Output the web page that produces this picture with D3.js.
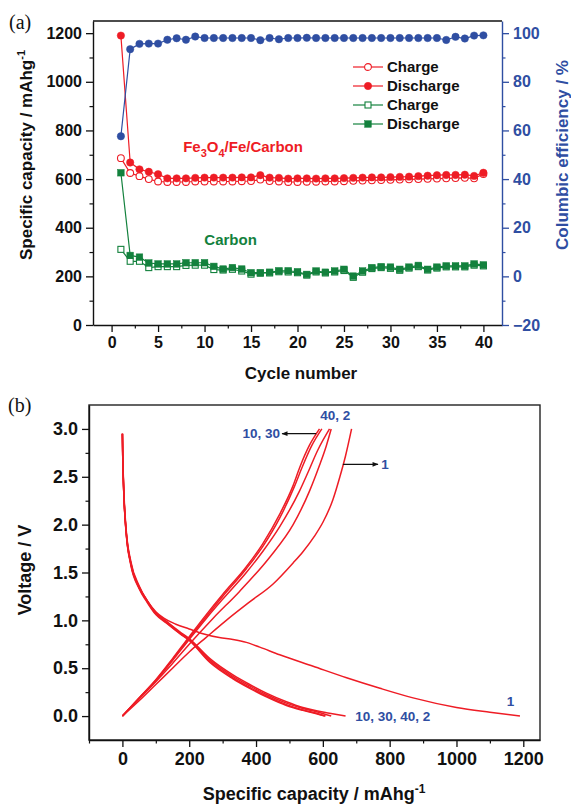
<!DOCTYPE html>
<html>
<head>
<meta charset="utf-8">
<script src="https://cdn.jsdelivr.net/npm/d3@7"></script>
<style>
  body { margin: 0; background: #fff; }
  svg { display: block; }
</style>
</head>
<body>
<svg id="chart" width="571" height="805"></svg>
<script>
// ---------- (a) cycling data ----------
const cycleNo = [1, 2, 3, 4, 5, 6, 7, 8, 9, 10, 11, 12, 13, 14, 15, 16, 17, 18, 19, 20,
                 21, 22, 23, 24, 25, 26, 27, 28, 29, 30, 31, 32, 33, 34, 35, 36, 37, 38, 39, 40];

const compositeDischarge = [1190, 668, 640, 630, 620, 603, 603, 603, 605, 606, 606, 606, 606, 607, 607, 616, 606, 605, 602, 603,
                            603, 602, 603, 603, 604, 605, 606, 607, 607, 608, 609, 610, 612, 614, 616, 617, 617, 618, 613, 626];
const compositeCharge = [686, 625, 612, 600, 590, 588, 588, 588, 590, 590, 590, 590, 590, 591, 592, 598, 592, 590, 588, 588,
                         589, 589, 590, 590, 591, 593, 594, 595, 596, 597, 598, 599, 600, 601, 602, 603, 604, 605, 603, 621];
const coulombicEff = [57.6, 93.4, 95.6, 95.7, 95.7, 97.3, 97.9, 97.3, 98.6, 98.0, 98.0, 98.0, 98.0, 98.0, 98.0, 97.1, 98.0, 97.5, 98.0, 98.0,
                      98.1, 98.0, 98.0, 98.0, 98.0, 98.0, 98.0, 98.0, 98.0, 98.0, 98.0, 98.0, 98.0, 98.0, 98.0, 97.2, 98.5, 97.8, 99.0, 99.1];
const carbonDischarge = [626, 286, 279, 255, 251, 251, 251, 256, 256, 256, 241, 230, 236, 230, 215, 215, 217, 223, 223, 219,
                         208, 222, 217, 222, 229, 201, 222, 236, 240, 238, 229, 238, 245, 229, 238, 243, 243, 243, 251, 247];
const carbonCharge = [311, 262, 262, 236, 240, 240, 240, 245, 246, 246, 228, 226, 229, 222, 209, 213, 214, 219, 218, 215,
                      205, 218, 214, 218, 224, 196, 217, 232, 236, 233, 225, 234, 240, 226, 234, 239, 239, 239, 246, 243];

const capTicksA = [0, 200, 400, 600, 800, 1000, 1200];
const capMinorA = [100, 300, 500, 700, 900, 1100];
const cycleTicks = [0, 5, 10, 15, 20, 25, 30, 35, 40];
const cycleMinor = [2.5, 7.5, 12.5, 17.5, 22.5, 27.5, 32.5, 37.5];
const ceTicks = [-20, 0, 20, 40, 60, 80, 100];
const ceMinor = [-10, 10, 30, 50, 70, 90];

// ---------- (b) voltage profiles: [capacity mAh/g, voltage V] ----------
const discharge1 = [[0, 2.95], [1, 2.75], [2, 2.6], [5, 2.3], [12, 1.92], [25, 1.62], [50, 1.36], [75, 1.2], [100, 1.09],
                    [125, 1.02], [160, 0.96], [200, 0.91], [241, 0.86], [290, 0.82], [331, 0.8], [371, 0.77], [411, 0.72],
                    [471, 0.64], [571, 0.52], [671, 0.4], [771, 0.29], [870, 0.19], [1000, 0.09], [1100, 0.04], [1190, 0.0]];
const discharge2 = [[0, 2.95], [1, 2.72], [2, 2.57], [5, 2.27], [12, 1.9], [25, 1.6], [50, 1.35], [72, 1.22], [100, 1.08],
                    [132, 0.99], [172, 0.88], [200, 0.81], [262, 0.6], [331, 0.43], [381, 0.33], [431, 0.24], [491, 0.15],
                    [540, 0.09], [581, 0.055], [620, 0.03], [668, 0.0]];
const discharge10 = [[0, 2.95], [1, 2.7], [2, 2.55], [5, 2.25], [12, 1.88], [25, 1.58], [50, 1.33], [72, 1.2], [100, 1.06],
                     [132, 0.97], [172, 0.86], [200, 0.79], [262, 0.56], [331, 0.39], [381, 0.29], [431, 0.2], [491, 0.11],
                     [540, 0.06], [581, 0.025], [606, 0.0]];
const discharge30 = [[0, 2.95], [1, 2.71], [2, 2.56], [5, 2.26], [12, 1.89], [25, 1.59], [50, 1.34], [72, 1.21], [100, 1.07],
                     [132, 0.975], [172, 0.865], [200, 0.795], [262, 0.57], [331, 0.4], [381, 0.3], [431, 0.21], [491, 0.12],
                     [540, 0.065], [581, 0.03], [608, 0.0]];
const discharge40 = [[0, 2.95], [1, 2.71], [2, 2.56], [5, 2.26], [12, 1.89], [25, 1.6], [50, 1.345], [72, 1.215], [100, 1.075],
                     [132, 0.985], [172, 0.87], [200, 0.80], [262, 0.585], [331, 0.415], [381, 0.315], [431, 0.225], [491, 0.135],
                     [540, 0.08], [581, 0.045], [625, 0.0]];

const charge1 = [[0, 0], [50, 0.16], [100, 0.33], [150, 0.5], [200, 0.67], [250, 0.82], [311, 1.0], [380, 1.19], [451, 1.38],
                 [511, 1.6], [541, 1.72], [575, 1.88], [601, 2.03], [630, 2.26], [651, 2.5], [668, 2.72], [686, 3.0]];
const charge2 = [[0, 0], [50, 0.18], [100, 0.36], [150, 0.55], [200, 0.75], [271, 1.02], [350, 1.3], [441, 1.66], [511, 2.0],
                 [560, 2.35], [590, 2.62], [610, 2.82], [625, 3.0]];
const charge10 = [[0, 0], [50, 0.19], [100, 0.38], [150, 0.6], [200, 0.83], [251, 1.06], [300, 1.27], [371, 1.56], [420, 1.8],
                  [471, 2.11], [510, 2.4], [531, 2.6], [560, 2.83], [590, 3.0]];
const charge30 = [[0, 0], [50, 0.19], [100, 0.375], [150, 0.59], [200, 0.815], [251, 1.04], [300, 1.25], [371, 1.54], [420, 1.77],
                  [471, 2.07], [515, 2.4], [538, 2.6], [566, 2.82], [597, 3.0]];
const charge40 = [[0, 0], [50, 0.185], [100, 0.37], [150, 0.58], [200, 0.8], [251, 1.02], [300, 1.22], [371, 1.5], [420, 1.72],
                  [471, 1.98], [530, 2.35], [556, 2.55], [585, 2.78], [620, 3.0]];

const capTicksB = [0, 200, 400, 600, 800, 1000, 1200];
const capMinorB = [-100, 100, 300, 500, 700, 900, 1100];
const voltTicks = [0, 0.5, 1.0, 1.5, 2.0, 2.5, 3.0];
const voltMinor = [0.25, 0.75, 1.25, 1.75, 2.25, 2.75];

// ---------- styling ----------
const FONT = "'Liberation Sans', Arial, Helvetica, sans-serif";
const RED = "#ee1c25", BLUE = "#2f4ea2", GREEN = "#13813d", INK = "#111";
const svg = d3.select("#chart");

function styleAxis(g, size, color) {
  g.selectAll("text").attr("font-family", FONT).attr("font-weight", "bold")
    .attr("font-size", size).attr("fill", color);
  g.selectAll("line").attr("stroke", color).attr("stroke-width", 1.3);
  g.selectAll("path.domain").attr("stroke", color).attr("stroke-width", 1.4);
}
function minorAxis(axisFn, scale, vals, tx, ty, color) {
  const g = svg.append("g").attr("transform", `translate(${tx},${ty})`)
    .call(axisFn(scale).tickValues(vals).tickFormat("").tickSize(3.5).tickSizeOuter(0));
  g.select("path.domain").remove();
  g.selectAll("line").attr("stroke", color).attr("stroke-width", 1.2);
}

// ================= Panel (a) =================
const xA = d3.scaleLinear().domain([-2, 42]).range([93, 502]);
const yA = d3.scaleLinear().domain([0, 1250]).range([325, 21]);
const yCE = d3.scaleLinear().domain([-20, 105]).range([325, 21]);

// top frame edge
svg.append("line").attr("x1", 93).attr("x2", 502).attr("y1", 21).attr("y2", 21)
  .attr("stroke", INK).attr("stroke-width", 1.4);

const axL = svg.append("g").attr("transform", "translate(93,0)")
  .call(d3.axisLeft(yA).tickValues(capTicksA).tickFormat(d3.format("d")).tickSize(7).tickSizeOuter(0).tickPadding(4));
styleAxis(axL, 16, INK);
minorAxis(d3.axisLeft, yA, capMinorA, 93, 0, INK);

const axB = svg.append("g").attr("transform", "translate(0,325)")
  .call(d3.axisBottom(xA).tickValues(cycleTicks).tickFormat(d3.format("d")).tickSize(7).tickSizeOuter(0).tickPadding(5));
styleAxis(axB, 16, INK);
minorAxis(d3.axisBottom, xA, cycleMinor, 0, 325, INK);

const axR = svg.append("g").attr("transform", "translate(502,0)")
  .call(d3.axisRight(yCE).tickValues(ceTicks).tickFormat(d3.format("d")).tickSize(7).tickSizeOuter(0).tickPadding(4));
styleAxis(axR, 16, BLUE);
minorAxis(d3.axisRight, yCE, ceMinor, 502, 0, BLUE);

// axis titles
svg.append("text").attr("transform", "translate(32,155) rotate(-90)")
  .attr("text-anchor", "middle").attr("font-family", FONT).attr("font-weight", "bold")
  .attr("font-size", 17).attr("fill", INK)
  .call(t => { t.append("tspan").text("Specific capacity / mAhg");
               t.append("tspan").attr("dy", -7).attr("font-size", 11).text("-1"); });
svg.append("text").attr("transform", "translate(568,155) rotate(-90)")
  .attr("text-anchor", "middle").attr("font-family", FONT).attr("font-weight", "bold")
  .attr("font-size", 17).attr("fill", BLUE).text("Columbic efficiency / %");
svg.append("text").attr("x", 301).attr("y", 379).attr("text-anchor", "middle")
  .attr("font-family", FONT).attr("font-weight", "bold").attr("font-size", 17).attr("fill", INK)
  .text("Cycle number");
svg.append("text").attr("x", 9).attr("y", 29).attr("font-family", "'Liberation Serif', 'Times New Roman', serif")
  .attr("font-size", 20).attr("fill", INK).text("(a)");

// series
const seriesA = [
  { vals: compositeCharge, scale: yA, color: RED, shape: "circle", filled: false },
  { vals: compositeDischarge, scale: yA, color: RED, shape: "circle", filled: true },
  { vals: carbonCharge, scale: yA, color: GREEN, shape: "square", filled: false },
  { vals: carbonDischarge, scale: yA, color: GREEN, shape: "square", filled: true },
  { vals: coulombicEff, scale: yCE, color: BLUE, shape: "circle", filled: true }
];
function drawMarker(g, shape, color, filled, cx, cy) {
  if (shape === "circle") {
    g.append("circle").attr("cx", cx).attr("cy", cy).attr("r", filled ? 3.7 : 3.4)
      .attr("fill", filled ? color : "#fff").attr("stroke", color).attr("stroke-width", filled ? 0.5 : 1.1);
  } else {
    const s = filled ? 6.6 : 6;
    g.append("rect").attr("x", cx - s / 2).attr("y", cy - s / 2).attr("width", s).attr("height", s)
      .attr("fill", filled ? color : "#fff").attr("stroke", color).attr("stroke-width", filled ? 0.5 : 1.1);
  }
}
seriesA.forEach(s => {
  const pts = cycleNo.map((c, i) => [xA(c), s.scale(s.vals[i])]);
  svg.append("path").attr("d", d3.line()(pts)).attr("fill", "none")
    .attr("stroke", s.color).attr("stroke-width", 1.2);
});
seriesA.forEach(s => {
  const g = svg.append("g");
  cycleNo.forEach((c, i) => drawMarker(g, s.shape, s.color, s.filled, xA(c), s.scale(s.vals[i])));
});

// in-plot labels
svg.append("text").attr("x", xA(7.7)).attr("y", yA(712)).attr("font-family", FONT)
  .attr("font-weight", "bold").attr("font-size", 15).attr("fill", RED)
  .call(t => {
    t.append("tspan").text("Fe");
    t.append("tspan").attr("dy", 5).attr("font-size", 11).text("3");
    t.append("tspan").attr("dy", -5).text("O");
    t.append("tspan").attr("dy", 5).attr("font-size", 11).text("4");
    t.append("tspan").attr("dy", -5).text("/Fe/Carbon");
  });
svg.append("text").attr("x", xA(12.8)).attr("y", yA(330)).attr("text-anchor", "middle")
  .attr("font-family", FONT).attr("font-weight", "bold").attr("font-size", 15).attr("fill", GREEN)
  .text("Carbon");

// legend
const legendItems = [
  { label: "Charge", color: RED, shape: "circle", filled: false },
  { label: "Discharge", color: RED, shape: "circle", filled: true },
  { label: "Charge", color: GREEN, shape: "square", filled: false },
  { label: "Discharge", color: GREEN, shape: "square", filled: true }
];
const leg = svg.append("g").attr("transform", "translate(353,67)");
legendItems.forEach((d, i) => {
  const gy = i * 19;
  leg.append("line").attr("x1", 0).attr("x2", 30).attr("y1", gy).attr("y2", gy)
    .attr("stroke", d.color).attr("stroke-width", 1.2);
  drawMarker(leg, d.shape, d.color, d.filled, 15, gy);
  leg.append("text").attr("x", 34).attr("y", gy).attr("dy", "0.36em")
    .attr("font-family", FONT).attr("font-weight", "bold").attr("font-size", 15).attr("fill", INK)
    .text(d.label);
});

// ================= Panel (b) =================
const xB = d3.scaleLinear().domain([-100, 1250]).range([89, 540]);
const yB = d3.scaleLinear().domain([-0.25, 3.25]).range([740, 405]);

svg.append("rect").attr("x", 89).attr("y", 405).attr("width", 451).attr("height", 335)
  .attr("fill", "none").attr("stroke", "#222").attr("stroke-width", 1.4);

const bxL = svg.append("g").attr("transform", "translate(89,0)")
  .call(d3.axisLeft(yB).tickValues(voltTicks).tickFormat(d3.format(".1f")).tickSize(7).tickSizeOuter(0).tickPadding(4));
styleAxis(bxL, 18, INK);
minorAxis(d3.axisLeft, yB, voltMinor, 89, 0, INK);

const bxB = svg.append("g").attr("transform", "translate(0,740)")
  .call(d3.axisBottom(xB).tickValues(capTicksB).tickFormat(d3.format("d")).tickSize(7).tickSizeOuter(0).tickPadding(5));
styleAxis(bxB, 18, INK);
minorAxis(d3.axisBottom, xB, capMinorB, 0, 740, INK);

svg.append("text").attr("transform", "translate(31,570) rotate(-90)")
  .attr("text-anchor", "middle").attr("font-family", FONT).attr("font-weight", "bold")
  .attr("font-size", 18).attr("fill", INK).text("Voltage / V");
svg.append("text").attr("x", 314).attr("y", 800).attr("text-anchor", "middle")
  .attr("font-family", FONT).attr("font-weight", "bold").attr("font-size", 18).attr("fill", INK)
  .call(t => { t.append("tspan").text("Specific capacity / mAhg");
               t.append("tspan").attr("dy", -7).attr("font-size", 12).text("-1"); });
svg.append("text").attr("x", 8).attr("y", 412).attr("font-family", "'Liberation Serif', 'Times New Roman', serif")
  .attr("font-size", 20).attr("fill", INK).text("(b)");

const profile = d3.line().x(d => xB(d[0])).y(d => yB(d[1])).curve(d3.curveMonotoneX);
[discharge1, discharge2, discharge10, discharge30, discharge40,
 charge1, charge2, charge10, charge30, charge40].forEach(c => {
  svg.append("path").attr("d", profile(c)).attr("fill", "none")
    .attr("stroke", RED).attr("stroke-width", 1.5);
});

// annotations
svg.append("defs").append("marker").attr("id", "arrowHead")
  .attr("viewBox", "0 0 10 10").attr("refX", 9).attr("refY", 5)
  .attr("markerWidth", 7).attr("markerHeight", 5).attr("orient", "auto")
  .append("path").attr("d", "M0,1 L10,5 L0,9 Z").attr("fill", INK);

function arrow(c0, v0, c1, v1) {
  svg.append("line").attr("x1", xB(c0)).attr("y1", yB(v0)).attr("x2", xB(c1)).attr("y2", yB(v1))
    .attr("stroke", INK).attr("stroke-width", 1.2).attr("marker-end", "url(#arrowHead)");
}
function note(txt, c, v, anchor) {
  svg.append("text").attr("x", xB(c)).attr("y", yB(v)).attr("dy", "0.36em").attr("text-anchor", anchor)
    .attr("font-family", FONT).attr("font-weight", "bold").attr("font-size", 13.5).attr("fill", BLUE)
    .text(txt);
}
arrow(580, 2.95, 478, 2.95);
note("10, 30", 472, 2.955, "end");
note("40, 2", 637, 3.14, "middle");
arrow(660, 2.63, 765, 2.63);
note("1", 775, 2.63, "start");
note("10, 30, 40, 2", 697, 0.0, "start");
note("1", 1162, 0.155, "middle");
</script>
</body>
</html>
